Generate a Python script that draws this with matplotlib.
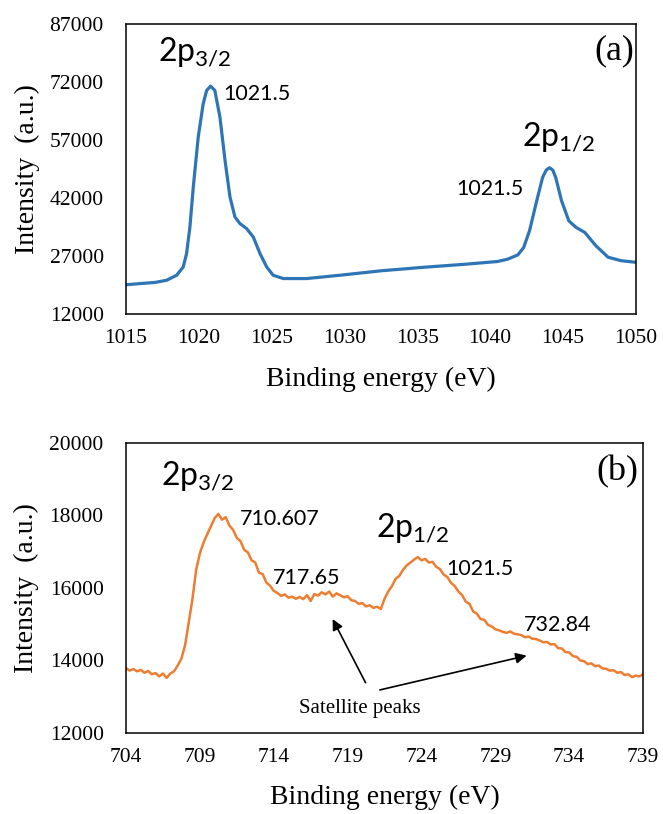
import matplotlib.pyplot as plt

# panel (a): Ni 2p
energy_a = [1015.0, 1015.96, 1017.0, 1017.8, 1018.48, 1018.93, 1019.16, 1019.39, 1019.62, 1019.96,
            1020.3, 1020.54, 1020.81, 1021.1, 1021.45, 1021.8, 1022.14, 1022.48, 1022.82, 1023.28,
            1023.74, 1024.2, 1024.66, 1025.1, 1025.8, 1027.4, 1029.7, 1032.5, 1035.4, 1038.3,
            1040.5, 1041.2, 1041.9, 1042.3, 1042.7, 1043.2, 1043.6, 1043.85, 1044.07, 1044.3,
            1044.5, 1044.9, 1045.4, 1045.9, 1046.5, 1047.25, 1048.1, 1049.0, 1050.0]
intensity_a = [19600, 19900, 20200, 20770, 22060, 24200, 27650, 34500, 44800, 57700,
               66300, 69750, 70870, 69760, 62880, 51700, 42250, 37100, 35400, 34100,
               31930, 27650, 24200, 22060, 21200, 21200, 22060, 23200, 24100, 24900,
               25600, 26200, 27300, 29200, 33500, 41300, 47300, 49200, 49800, 49200,
               47300, 41300, 36100, 34400, 33100, 29700, 26700, 25800, 25400]

# panel (b): Fe 2p, sampled every 0.25 eV from the picture
energy_b = [
    704.00, 704.25, 704.50, 704.75, 705.00, 705.25, 705.50, 705.75, 706.00, 706.25,
    706.50, 706.75, 707.00, 707.25, 707.50, 707.75, 708.00, 708.25, 708.50, 708.75,
    709.00, 709.25, 709.50, 709.75, 710.00, 710.25, 710.50, 710.75, 711.00, 711.25,
    711.50, 711.75, 712.00, 712.25, 712.50, 712.75, 713.00, 713.25, 713.50, 713.75,
    714.00, 714.25, 714.50, 714.75, 715.00, 715.25, 715.50, 715.75, 716.00, 716.25,
    716.50, 716.75, 717.00, 717.25, 717.50, 717.75, 718.00, 718.25, 718.50, 718.75,
    719.00, 719.25, 719.50, 719.75, 720.00, 720.25, 720.50, 720.75, 721.00, 721.25,
    721.50, 721.75, 722.00, 722.25, 722.50, 722.75, 723.00, 723.25, 723.50, 723.75,
    724.00, 724.25, 724.50, 724.75, 725.00, 725.25, 725.50, 725.75, 726.00, 726.25,
    726.50, 726.75, 727.00, 727.25, 727.50, 727.75, 728.00, 728.25, 728.50, 728.75,
    729.00, 729.25, 729.50, 729.75, 730.00, 730.25, 730.50, 730.75, 731.00, 731.25,
    731.50, 731.75, 732.00, 732.25, 732.50, 732.75, 733.00, 733.25, 733.50, 733.75,
    734.00, 734.25, 734.50, 734.75, 735.00, 735.25, 735.50, 735.75, 736.00, 736.25,
    736.50, 736.75, 737.00, 737.25, 737.50, 737.75, 738.00, 738.25, 738.50, 738.75,
    739.00]
intensity_b = [
    13790, 13720, 13760, 13700, 13740, 13660, 13710, 13620, 13650, 13560,
    13640, 13520, 13640, 13700, 13860, 14050, 14420, 15050, 15700, 16500,
    16950, 17250, 17480, 17700, 17920, 18040, 17880, 17950, 17720, 17600,
    17380, 17290, 17050, 16980, 16760, 16700, 16420, 16380, 16150, 16060,
    15920, 15860, 15780, 15820, 15730, 15760, 15700, 15750, 15690, 15800,
    15640, 15830, 15790, 15880, 15820, 15900, 15760, 15850, 15800, 15740,
    15770, 15660, 15640, 15560, 15580, 15490, 15520, 15450, 15480, 15420,
    15700, 15900, 16050, 16250, 16330, 16500, 16620, 16700, 16780, 16850,
    16760, 16800, 16700, 16720, 16580, 16520, 16370, 16300, 16140, 16050,
    15900, 15800, 15620, 15560, 15350, 15290, 15140, 15120, 14980, 14940,
    14860, 14830, 14790, 14760, 14800, 14740, 14720, 14700, 14640, 14660,
    14600, 14590, 14550, 14500, 14510, 14440, 14450, 14340, 14330, 14230,
    14220, 14120, 14100, 14000, 13980, 13900, 13920, 13840, 13860, 13780,
    13770, 13720, 13730, 13660, 13680, 13600, 13620, 13540, 13580, 13560,
    13620]

xticks_a = [1015, 1020, 1025, 1030, 1035, 1040, 1045, 1050]
yticks_a = [12000, 27000, 42000, 57000, 72000, 87000]
xticks_b = [704, 709, 714, 719, 724, 729, 734, 739]
yticks_b = [12000, 14000, 16000, 18000, 20000]

SERIF = 'Liberation Serif'
SANS = 'Lato'
plt.rcParams['mathtext.fontset'] = 'custom'
plt.rcParams['mathtext.rm'] = SANS
plt.rcParams['mathtext.it'] = SANS

fig = plt.figure(figsize=(6.63, 8.14), dpi=100)
ax1 = fig.add_axes([0.190, 0.614, 0.769, 0.357])
ax2 = fig.add_axes([0.190, 0.0995, 0.780, 0.3565])


def style_axes(ax, xticks, yticks):
    ax.set_xlim(xticks[0], xticks[-1])
    ax.set_ylim(yticks[0], yticks[-1])
    ax.set_xticks(xticks)
    ax.set_yticks(yticks)
    ax.tick_params(length=0, labelsize=15.5)
    ax.tick_params(axis='y', pad=16)
    ax.tick_params(axis='x', pad=11)
    for lab in ax.get_xticklabels() + ax.get_yticklabels():
        lab.set_fontfamily(SERIF)
    for sp in ax.spines.values():
        sp.set_linewidth(1.1)
        sp.set_color('black')
    ax.set_xlabel('Binding energy (eV)', fontsize=20, family=SERIF)
    ax.set_ylabel('Intensity  (a.u.)', fontsize=20, family=SERIF)
    ax.xaxis.set_label_coords(0.5, -0.18)
    ax.yaxis.set_label_coords(-0.168, 0.5)


# (a)
ax1.plot(energy_a, intensity_a, color='#2E75B6', linewidth=2.3, solid_joinstyle='round')
style_axes(ax1, xticks_a, yticks_a)
ax1.text(1017.2, 77450, r'2p$_{3/2}$', fontsize=23, family=SANS)
ax1.text(1021.66, 67180, '1021.5', fontsize=15.5, family=SANS)
ax1.text(1042.2, 55450, r'2p$_{1/2}$', fontsize=23, family=SANS)
ax1.text(1037.7, 42690, '1021.5', fontsize=15.5, family=SANS)
ax1.text(1049.9, 80080, '(a)', fontsize=26, family=SERIF, ha='right', va='center')

# (b)
ax2.plot(energy_b, intensity_b, color='#ED7D31', linewidth=1.8)
style_axes(ax2, xticks_b, yticks_b)
ax2.text(706.35, 18840, r'2p$_{3/2}$', fontsize=23, family=SANS)
ax2.text(711.7, 17740, '710.607', fontsize=15.5, family=SANS)
ax2.text(720.95, 17415, r'2p$_{1/2}$', fontsize=23, family=SANS)
ax2.text(713.97, 16110, '717.65', fontsize=15.5, family=SANS)
ax2.text(725.7, 16360, '1021.5', fontsize=15.5, family=SANS)
ax2.text(730.9, 14820, '732.84', fontsize=15.5, family=SANS)
ax2.text(715.7, 12540, 'Satellite peaks', fontsize=15, family=SERIF)
ax2.text(738.7, 19210, '(b)', fontsize=26, family=SERIF, ha='right', va='center')

arrow = dict(arrowstyle='-|>', color='black', lw=1.2, mutation_scale=16)
ax2.annotate('', xy=(717.9, 15210), xytext=(720.3, 13320), arrowprops=arrow)
ax2.annotate('', xy=(731.3, 14150), xytext=(721.0, 13170), arrowprops=arrow)

fig.savefig('out.png', dpi=100)
